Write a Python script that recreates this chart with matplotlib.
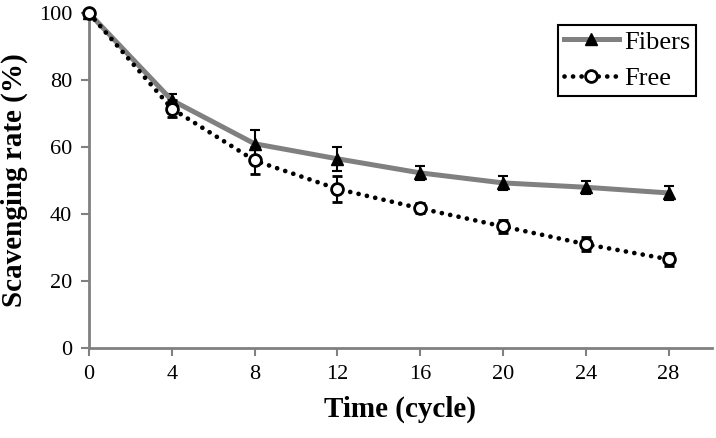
import matplotlib
matplotlib.use("Agg")
import matplotlib.pyplot as plt

# data
cycles = [0, 4, 8, 12, 16, 20, 24, 28]
fibers = [100, 74, 61, 56.5, 52.3, 49.3, 48, 46.3]
fibers_err = [0, 2, 4, 3.5, 2, 2, 2, 2]
free = [100, 71.5, 56, 47.5, 41.7, 36.3, 31, 26.5]
free_err = [0, 2.5, 4, 4, 1.5, 2, 2, 2]
xticks = [0, 4, 8, 12, 16, 20, 24, 28]
yticks = [0, 20, 40, 60, 80, 100]

plt.rcParams['font.family'] = ['Liberation Serif', 'DejaVu Serif']

fig = plt.figure(figsize=(7.16, 4.38), dpi=100)
ax = fig.add_axes([0.1243, 0.2055, 0.8701, 0.7645])

fib = ax.errorbar(cycles, fibers, yerr=fibers_err, color='#808080', lw=3.6,
                  marker='^', ms=8, mfc='black', mec='black',
                  ecolor='black', elinewidth=1.5, capsize=3.6, capthick=1.5,
                  zorder=3)
fre = ax.errorbar(cycles, free, yerr=free_err, color='black', lw=3.4,
                  ls=(0, (0.01, 1.8)),
                  marker='o', ms=8.5, mfc='white', mec='black', mew=2,
                  ecolor='black', elinewidth=1.5, capsize=3.6, capthick=1.5,
                  zorder=4)
fre[0].set_dash_capstyle('round')
for cont in (fib, fre):
    cont[0].set_clip_on(False)

ax.set_xlim(0, 30.1)
ax.set_ylim(0, 100)
ax.set_xticks(xticks)
ax.set_yticks(yticks)
ax.tick_params(labelsize=16, color='#808080', length=6, width=1.5, pad=6)

for side in ['top', 'right']:
    ax.spines[side].set_visible(False)
for side in ['left', 'bottom']:
    ax.spines[side].set_color('#808080')
    ax.spines[side].set_linewidth(2)

ax.set_xlabel('Time (cycle)', fontsize=21, fontweight='bold', labelpad=9)
ax.set_ylabel('Scavenging rate (%)', fontsize=21, fontweight='bold', labelpad=8)

leg = ax.legend([fib[0], fre[0]], ['Fibers', 'Free'], loc='upper right',
                bbox_to_anchor=(0.974, 0.965), fontsize=19,
                frameon=True, fancybox=False, edgecolor='black', framealpha=1,
                handlelength=2.1, borderpad=0.2, labelspacing=0.5,
                handletextpad=0.2, borderaxespad=0)
leg.get_frame().set_linewidth(1.5)

fig.savefig('out.png', dpi=100)
